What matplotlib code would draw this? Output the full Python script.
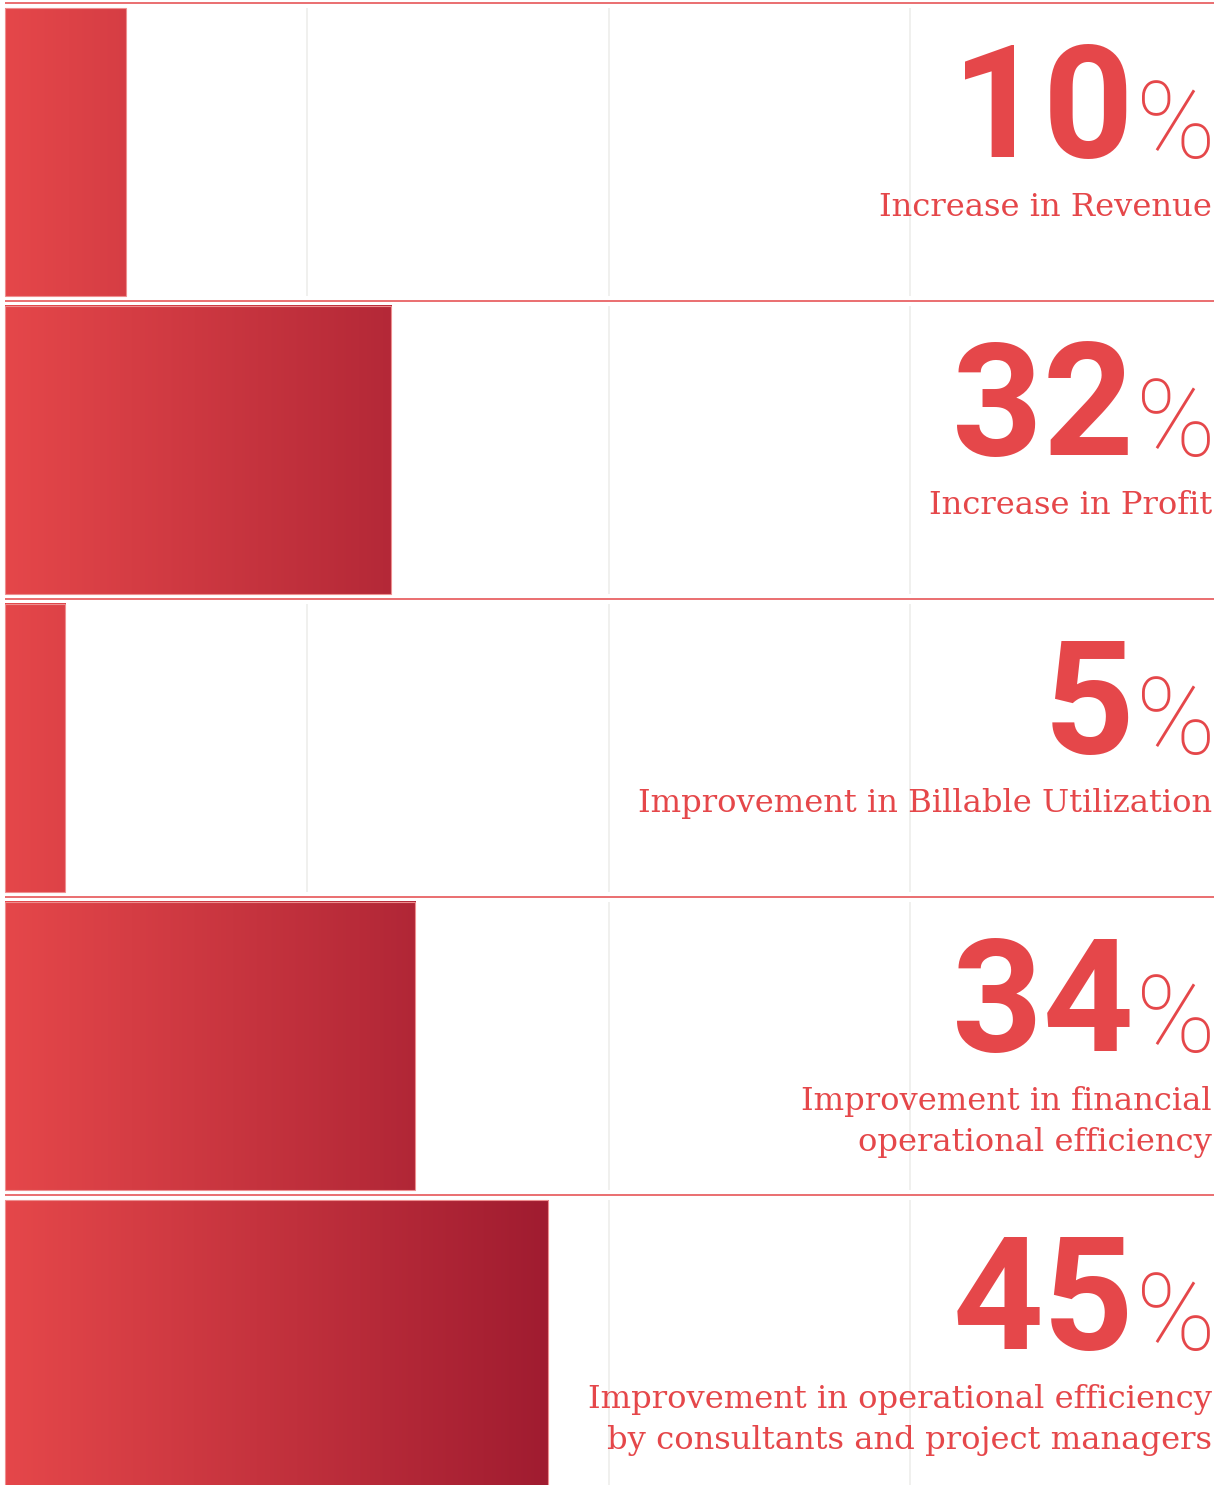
import numpy as np
import matplotlib.pyplot as plt
from matplotlib.colors import LinearSegmentedColormap
from matplotlib.patches import Rectangle

values = [10, 32, 5, 34, 45]
labels = [
    ["Increase in Revenue"],
    ["Increase in Profit"],
    ["Improvement in Billable Utilization"],
    ["Improvement in financial", "operational efficiency"],
    ["Improvement in operational efficiency", "by consultants and project managers"],
]
grid_ticks = [25, 50, 75]

red = "#e5474a"
dark = "#a01c30"
cmap = LinearSegmentedColormap.from_list("bar_red", [red, dark])
grad_max = 45  # colour reaches the dark end at 45%

W, H = 1219, 1485
fig = plt.figure(figsize=(W / 100, H / 100), dpi=100)
ax = fig.add_axes([0, 0, 1, 1])

# pixel-based mapping: 0% at x=5px, 100% at x=1212px; each row is 298px tall
px = 12.07
row_h = 298
ax.set_xlim(-5 / px, (W - 5) / px)
ax.set_ylim((H - 3) / row_h, -3 / row_h)
ax.axis("off")

pad = 5 / row_h
for i, v in enumerate(values):
    top, bot = i + pad, i + 1 - pad
    # light grid lines inside each row
    ax.vlines(grid_ticks, top, bot, color="#eeeeeb", lw=1.2, zorder=0)
    # gradient bar
    g = np.linspace(0, v / grad_max, 300).reshape(1, -1)
    ax.imshow(g, cmap=cmap, vmin=0, vmax=1, aspect="auto",
              extent=(0, v, bot, top), interpolation="bilinear", zorder=2)
    ax.add_patch(Rectangle((0, top), v, bot - top, fill=False,
                           ec="#ee8f90", lw=0.8, zorder=3))
    # separator above the row
    ax.plot([0, (1214 - 5) / px], [i, i], color=red, lw=1.3, alpha=0.85,
            solid_capstyle="butt", zorder=3)
    # big number and percent sign
    ax.text((1134 - 5) / px, i + 154 / row_h, str(v), ha="right",
            va="baseline", fontsize=114, fontfamily="Roboto",
            fontweight="bold", color=red, zorder=4)
    ax.text((1136 - 5) / px, i + 155 / row_h, "%", ha="left",
            va="baseline", fontsize=77, fontfamily="Roboto",
            fontweight="light", color=red, zorder=4)
    # description, one line at a time
    for k, line in enumerate(labels[i]):
        ax.text(100, i + (213 + 41 * k) / row_h, line, ha="right",
                va="baseline", fontsize=23.2, fontfamily="DejaVu Serif",
                color=red, zorder=4)

fig.savefig("out.png", dpi=100)
